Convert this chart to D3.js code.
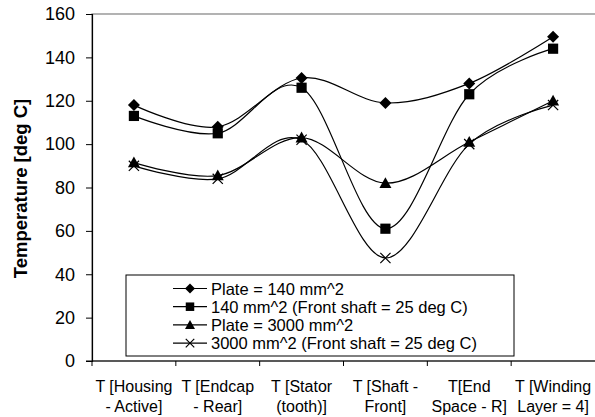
<!DOCTYPE html>
<html>
<head>
<meta charset="utf-8">
<script src="https://cdn.jsdelivr.net/npm/d3@7"></script>
<style>
  body { margin: 0; background: #fff; }
  svg { font-family: "Liberation Sans", Arial, sans-serif; }
</style>
</head>
<body>
<svg id="chart" width="595" height="417"></svg>
<script>
// categories (two-line labels)
let categories = [
    ["T [Housing", "- Active]"],
    ["T [Endcap", "- Rear]"],
    ["T [Stator", "(tooth)]"],
    ["T [Shaft -", "Front]"],
    ["T[End", "Space - R]"],
    ["T [Winding", "Layer = 4]"]
];
let seriesNames = [
    "Plate = 140 mm^2",
    "140 mm^2 (Front shaft = 25 deg C)",
    "Plate = 3000 mm^2",
    "3000 mm^2 (Front shaft = 25 deg C)"
];
let plate140 = [118, 108, 130.5, 119, 128, 149.5];
let shaft140 = [113, 105, 126, 61, 123, 144];
let plate3000 = [91.5, 85.5, 103, 82, 101, 120];
let shaft3000 = [90, 84, 102, 47.5, 100, 118];
let yTicks = [0, 20, 40, 60, 80, 100, 120, 140, 160];
let markers = ["diamond", "square", "triangle", "cross"];

let allSeries = [plate140, shaft140, plate3000, shaft3000];

let svg = d3.select("#chart");
let plotLeft = 92, plotRight = 595, plotTop = 14, plotBottom = 361;

let x = d3.scaleBand()
    .domain(d3.range(categories.length))
    .range([plotLeft, plotRight]);

let y = d3.scaleLinear()
    .domain([0, 160])
    .range([plotBottom, plotTop]);

// plot area border (gray)
svg.append("rect")
    .attr("x", plotLeft).attr("y", plotTop)
    .attr("width", plotRight - plotLeft + 10).attr("height", plotBottom - plotTop)
    .attr("fill", "none")
    .attr("stroke", "#808080")
    .attr("stroke-width", 1.2);

// y axis
let yAxis = svg.append("g")
    .attr("transform", "translate(" + plotLeft + ",0)")
    .call(d3.axisLeft(y).tickValues(yTicks).tickSize(6).tickPadding(11));
yAxis.select(".domain").attr("stroke", "#000").attr("stroke-width", 1.2);
yAxis.selectAll(".tick line").attr("stroke", "#000");
yAxis.selectAll("text")
    .attr("font-size", 18)
    .attr("fill", "#000")
    .style("font-family", "Liberation Sans, Arial, sans-serif");

// x axis: ticks on category boundaries
let xAxisG = svg.append("g");
xAxisG.append("line")
    .attr("x1", plotLeft - 6).attr("x2", plotRight)
    .attr("y1", plotBottom).attr("y2", plotBottom)
    .attr("stroke", "#000").attr("stroke-width", 1.2);
xAxisG.selectAll("line.tk")
    .data(d3.range(categories.length))
    .enter().append("line")
    .attr("class", "tk")
    .attr("x1", d => x(d)).attr("x2", d => x(d))
    .attr("y1", plotBottom).attr("y2", plotBottom + 5)
    .attr("stroke", "#000");

let xLabels = xAxisG.selectAll("text.xl")
    .data(categories)
    .enter().append("text")
    .attr("class", "xl")
    .attr("text-anchor", "middle")
    .attr("font-size", 16)
    .attr("x", (d, i) => x(i) + x.bandwidth() / 2);
xLabels.each(function (d) {
    let t = d3.select(this);
    d.forEach((line, j) => {
        t.append("tspan")
            .attr("x", t.attr("x"))
            .attr("y", 392 + j * 20)
            .text(line);
    });
});

// y axis title
svg.append("text")
    .attr("transform", "translate(27," + ((plotTop + plotBottom) / 2 + 1) + ") rotate(-90)")
    .attr("text-anchor", "middle")
    .attr("font-size", 18.5)
    .attr("font-weight", "bold")
    .text("Temperature [deg C]");

// lines
let line = d3.line()
    .x((d, i) => x(i) + x.bandwidth() / 2)
    .y(d => y(d))
    .curve(d3.curveCatmullRom.alpha(0));

svg.selectAll("path.series")
    .data(allSeries)
    .enter().append("path")
    .attr("class", "series")
    .attr("d", line)
    .attr("fill", "none")
    .attr("stroke", "#000")
    .attr("stroke-width", 1.2);

// marker drawing helper
function drawMarker(g, type, cx, cy, s) {
    if (type === "diamond") {
        g.append("path")
            .attr("d", "M" + cx + "," + (cy - s) + "L" + (cx + s) + "," + cy + "L" + cx + "," + (cy + s) + "L" + (cx - s) + "," + cy + "Z")
            .attr("fill", "#000");
    } else if (type === "square") {
        g.append("rect")
            .attr("x", cx - s * 0.85).attr("y", cy - s * 0.85)
            .attr("width", s * 1.7).attr("height", s * 1.7)
            .attr("fill", "#000");
    } else if (type === "triangle") {
        g.append("path")
            .attr("d", "M" + cx + "," + (cy - s) + "L" + (cx + s) + "," + (cy + s * 0.8) + "L" + (cx - s) + "," + (cy + s * 0.8) + "Z")
            .attr("fill", "#000");
    } else {
        let r = s * 0.85;
        g.append("path")
            .attr("d", "M" + (cx - r) + "," + (cy - r) + "L" + (cx + r) + "," + (cy + r) + "M" + (cx - r) + "," + (cy + r) + "L" + (cx + r) + "," + (cy - r))
            .attr("stroke", "#000")
            .attr("stroke-width", 1.2)
            .attr("fill", "none");
    }
}

let markerG = svg.append("g");
allSeries.forEach((s, si) => {
    s.forEach((v, i) => {
        drawMarker(markerG, markers[si], x(i) + x.bandwidth() / 2, y(v), 6);
    });
});

// legend
let legend = svg.append("g");
legend.append("rect")
    .attr("x", 126).attr("y", 275)
    .attr("width", 388).attr("height", 81)
    .attr("fill", "#fff")
    .attr("stroke", "#000")
    .attr("stroke-width", 1);

seriesNames.forEach((name, i) => {
    let ly = 288.5 + i * 18.2;
    legend.append("line")
        .attr("x1", 173).attr("x2", 207)
        .attr("y1", ly).attr("y2", ly)
        .attr("stroke", "#000").attr("stroke-width", 1.2);
    drawMarker(legend, markers[i], 190, ly, 5);
    legend.append("text")
        .attr("x", 211).attr("y", ly + 6)
        .attr("font-size", 16.5)
        .text(name);
});
</script>
</body>
</html>
